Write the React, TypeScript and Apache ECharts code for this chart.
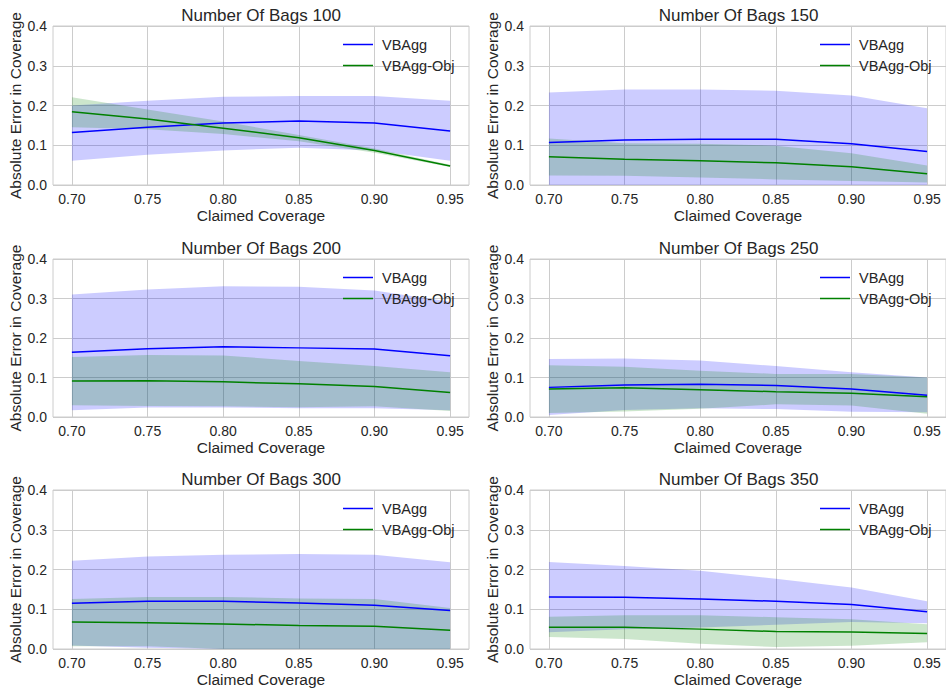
import React, { useEffect, useRef } from "react";
import * as echarts from "echarts";

// Claimed coverage levels (x axis)
const claimedCoverage = [0.7, 0.75, 0.8, 0.85, 0.9, 0.95];
const xTickLabels = [0.7, 0.75, 0.8, 0.85, 0.9, 0.95];
const yTickLabels = [0, 0.1, 0.2, 0.3, 0.4];
const numberOfBags = [100, 150, 200, 250, 300, 350];

// VBAgg mean absolute error (one row per panel)
const vbaggMean = [
  [0.132, 0.145, 0.156, 0.161, 0.156, 0.136],
  [0.107, 0.113, 0.115, 0.115, 0.104, 0.084],
  [0.164, 0.173, 0.178, 0.175, 0.172, 0.155],
  [0.075, 0.081, 0.083, 0.080, 0.071, 0.055],
  [0.115, 0.120, 0.120, 0.116, 0.110, 0.097],
  [0.131, 0.130, 0.126, 0.120, 0.112, 0.094],
];
const vbaggLower = [
  [0.061, 0.076, 0.087, 0.094, 0.087, 0.061],
  [0.0, 0.0, 0.0, 0.0, 0.0, 0.0],
  [0.017, 0.024, 0.024, 0.022, 0.022, 0.017],
  [0.005, 0.018, 0.022, 0.020, 0.013, 0.012],
  [0.009, 0.003, 0.0, 0.0, 0.0, 0.0],
  [0.042, 0.050, 0.054, 0.061, 0.068, 0.065],
];
const vbaggUpper = [
  [0.200, 0.212, 0.222, 0.224, 0.224, 0.212],
  [0.233, 0.240, 0.240, 0.237, 0.225, 0.193],
  [0.310, 0.323, 0.331, 0.330, 0.320, 0.292],
  [0.147, 0.148, 0.143, 0.129, 0.113, 0.100],
  [0.222, 0.233, 0.237, 0.239, 0.237, 0.218],
  [0.219, 0.209, 0.197, 0.177, 0.155, 0.120],
];

// VBAgg-Obj mean absolute error (one row per panel)
const objMean = [
  [0.184, 0.166, 0.143, 0.119, 0.087, 0.048],
  [0.071, 0.065, 0.061, 0.056, 0.046, 0.028],
  [0.091, 0.092, 0.089, 0.084, 0.077, 0.062],
  [0.071, 0.074, 0.069, 0.064, 0.060, 0.051],
  [0.068, 0.066, 0.063, 0.059, 0.057, 0.047],
  [0.055, 0.055, 0.050, 0.044, 0.043, 0.039],
];
const objLower = [
  [0.145, 0.140, 0.128, 0.110, 0.081, 0.045],
  [0.024, 0.023, 0.019, 0.014, 0.010, 0.006],
  [0.030, 0.028, 0.027, 0.025, 0.027, 0.015],
  [0.010, 0.014, 0.021, 0.032, 0.029, 0.008],
  [0.007, 0.007, 0.0, 0.0, 0.0, 0.0],
  [0.030, 0.025, 0.013, 0.005, 0.008, 0.017],
];
const objUpper = [
  [0.221, 0.190, 0.160, 0.126, 0.092, 0.051],
  [0.117, 0.105, 0.104, 0.099, 0.080, 0.049],
  [0.152, 0.157, 0.156, 0.142, 0.129, 0.113],
  [0.131, 0.127, 0.117, 0.109, 0.109, 0.100],
  [0.126, 0.131, 0.131, 0.127, 0.126, 0.103],
  [0.081, 0.085, 0.085, 0.080, 0.075, 0.062],
];

const FONT = "'Liberation Sans', Arial, sans-serif";
const TEXT = "#262626";
const GRIDC = "#cccccc";
const BLUE = "#0000ff";
const GREEN = "#008000";

const colLeft = [53, 530];
const colWidth = [416, 417];
const rowTop = [26, 259, 490];
const rowHeight = [159, 158, 159];

function bandSeries(idx: number, lower: number[], upper: number[], fill: string, name: string) {
  return {
    type: "custom",
    name,
    xAxisIndex: idx,
    yAxisIndex: idx,
    silent: true,
    clip: true,
    z: 1,
    data: claimedCoverage.map((x, i) => [x, lower[i], upper[i]]),
    encode: { x: 0, y: [1, 2] },
    renderItem: (params: any, api: any) => {
      if (params.dataIndex !== 0) return null;
      const top = claimedCoverage.map((x, i) => api.coord([x, upper[i]]));
      const bottom = claimedCoverage
        .map((x, i) => api.coord([x, lower[i]]))
        .reverse();
      return {
        type: "polygon",
        shape: { points: top.concat(bottom) },
        style: { fill, stroke: null },
      };
    },
  };
}

export default function App() {
  const ref = useRef<HTMLDivElement>(null);
  useEffect(() => {
    if (!ref.current) return;
    const chart = echarts.init(ref.current, undefined, { renderer: "svg" });
    const grids: any[] = [];
    const xAxes: any[] = [];
    const yAxes: any[] = [];
    const titles: any[] = [];
    const legends: any[] = [];
    const series: any[] = [];
    numberOfBags.forEach((bags, i) => {
      const col = i % 2;
      const row = Math.floor(i / 2);
      const left = colLeft[col];
      const top = rowTop[row];
      const w = colWidth[col];
      const h = rowHeight[row];
      grids.push({
        left,
        top,
        width: w,
        height: h,
        show: true,
        borderColor: GRIDC,
        borderWidth: 1,
        backgroundColor: "#ffffff",
      });
      xAxes.push({
        type: "value",
        gridIndex: i,
        min: 0.6875,
        max: 0.9625,
        name: "Claimed Coverage",
        nameLocation: "middle",
        nameGap: 22,
        nameTextStyle: { fontFamily: FONT, fontSize: 15.5, color: TEXT, verticalAlign: "top" },
        axisLine: { show: false },
        axisTick: { show: false, customValues: xTickLabels },
        axisLabel: {
          customValues: xTickLabels,
          formatter: (v: number) => v.toFixed(2),
          fontFamily: FONT,
          fontSize: 14,
          color: TEXT,
          margin: 7,
        },
        splitLine: { show: true, lineStyle: { color: GRIDC, width: 1 } },
      });
      yAxes.push({
        type: "value",
        gridIndex: i,
        min: 0,
        max: 0.4,
        interval: 0.1,
        name: "Absolute Error in Coverage",
        nameLocation: "middle",
        nameGap: 30,
        nameTextStyle: { fontFamily: FONT, fontSize: 15.5, color: TEXT },
        axisLine: { show: false },
        axisTick: { show: false },
        axisLabel: {
          formatter: (v: number) => v.toFixed(1),
          fontFamily: FONT,
          fontSize: 14,
          color: TEXT,
          margin: 6,
        },
        splitLine: { show: true, lineStyle: { color: GRIDC, width: 1 } },
      });
      titles.push({
        text: "Number Of Bags " + bags,
        left: left + w / 2,
        textAlign: "center",
        top: top - 19,
        padding: 0,
        textStyle: { fontFamily: FONT, fontSize: 17, fontWeight: "normal", color: TEXT },
      });
      legends.push({
        orient: "vertical",
        left: left + 290,
        top: top + 11,
        padding: 0,
        itemGap: 6,
        itemWidth: 30,
        itemHeight: 1.5,
        icon: "rect",
        selectedMode: false,
        textStyle: { fontFamily: FONT, fontSize: 14.5, color: TEXT, padding: [0, 0, 0, 4] },
        data: ["VBAgg", "VBAgg-Obj"],
      });
      series.push(bandSeries(i, vbaggLower[i], vbaggUpper[i], "rgba(0,0,255,0.2)", "VBAgg band"));
      series.push(bandSeries(i, objLower[i], objUpper[i], "rgba(0,128,0,0.2)", "VBAgg-Obj band"));
      series.push({
        type: "line",
        name: "VBAgg",
        xAxisIndex: i,
        yAxisIndex: i,
        showSymbol: false,
        symbol: "none",
        z: 3,
        color: BLUE,
        lineStyle: { color: BLUE, width: 1.5 },
        data: claimedCoverage.map((x, k) => [x, vbaggMean[i][k]]),
      });
      series.push({
        type: "line",
        name: "VBAgg-Obj",
        xAxisIndex: i,
        yAxisIndex: i,
        showSymbol: false,
        symbol: "none",
        z: 3,
        color: GREEN,
        lineStyle: { color: GREEN, width: 1.5 },
        data: claimedCoverage.map((x, k) => [x, objMean[i][k]]),
      });
    });
    chart.setOption({
      animation: false,
      backgroundColor: "#ffffff",
      title: titles,
      legend: legends,
      grid: grids,
      xAxis: xAxes,
      yAxis: yAxes,
      series,
    });
    return () => chart.dispose();
  }, []);
  return (
    <div
      ref={ref}
      style={{ position: "fixed", left: 0, top: 0, width: 946, height: 692, background: "#fff" }}
    />
  );
}
